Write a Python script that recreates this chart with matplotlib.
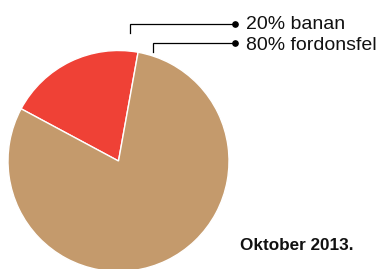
import matplotlib
matplotlib.use("Agg")
import matplotlib.pyplot as plt

labels = ["20% banan", "80% fordonsfel"]
values = [20, 80]
colors = ["#EF4136", "#C49A6C"]
title = "Oktober 2013."

W, H = 385, 269
fig = plt.figure(figsize=(W / 100, H / 100), dpi=100)
ax = fig.add_axes([0, 0, 1, 1])

cx, cy, r = 118.5, H - 161, 110.5
ax.pie(values, colors=colors, startangle=79.8, counterclock=True,
       center=(cx, cy), radius=r,
       wedgeprops=dict(edgecolor="white", linewidth=1.0))
ax.set_xlim(0, W)
ax.set_ylim(0, H)
ax.set_aspect("equal")
ax.axis("off")

font = ["Liberation Sans", "DejaVu Sans"]
# leader lines: (vertical x, bottom y, horizontal y, text baseline y)
leaders = [(129.5, 33, 24, 28.7), (152.5, 52, 43, 49.7)]
dot_x = 235
text_x = 246
for lab, (vx, vy, hy, by) in zip(labels, leaders):
    ax.plot([vx, vx, dot_x], [H - vy, H - hy, H - hy], color="black", lw=0.9,
            solid_joinstyle="miter")
    ax.plot([dot_x], [H - hy], marker="o", ms=3.8, color="black")
    ax.text(text_x, H - by, lab, fontsize=14, family=font,
            va="baseline", ha="left", color="#111111")

ax.text(240, H - 250.5, title, fontsize=12.3, fontweight="bold", family=font,
        va="baseline", ha="left", color="#111111")

fig.savefig("out.png", dpi=100)
